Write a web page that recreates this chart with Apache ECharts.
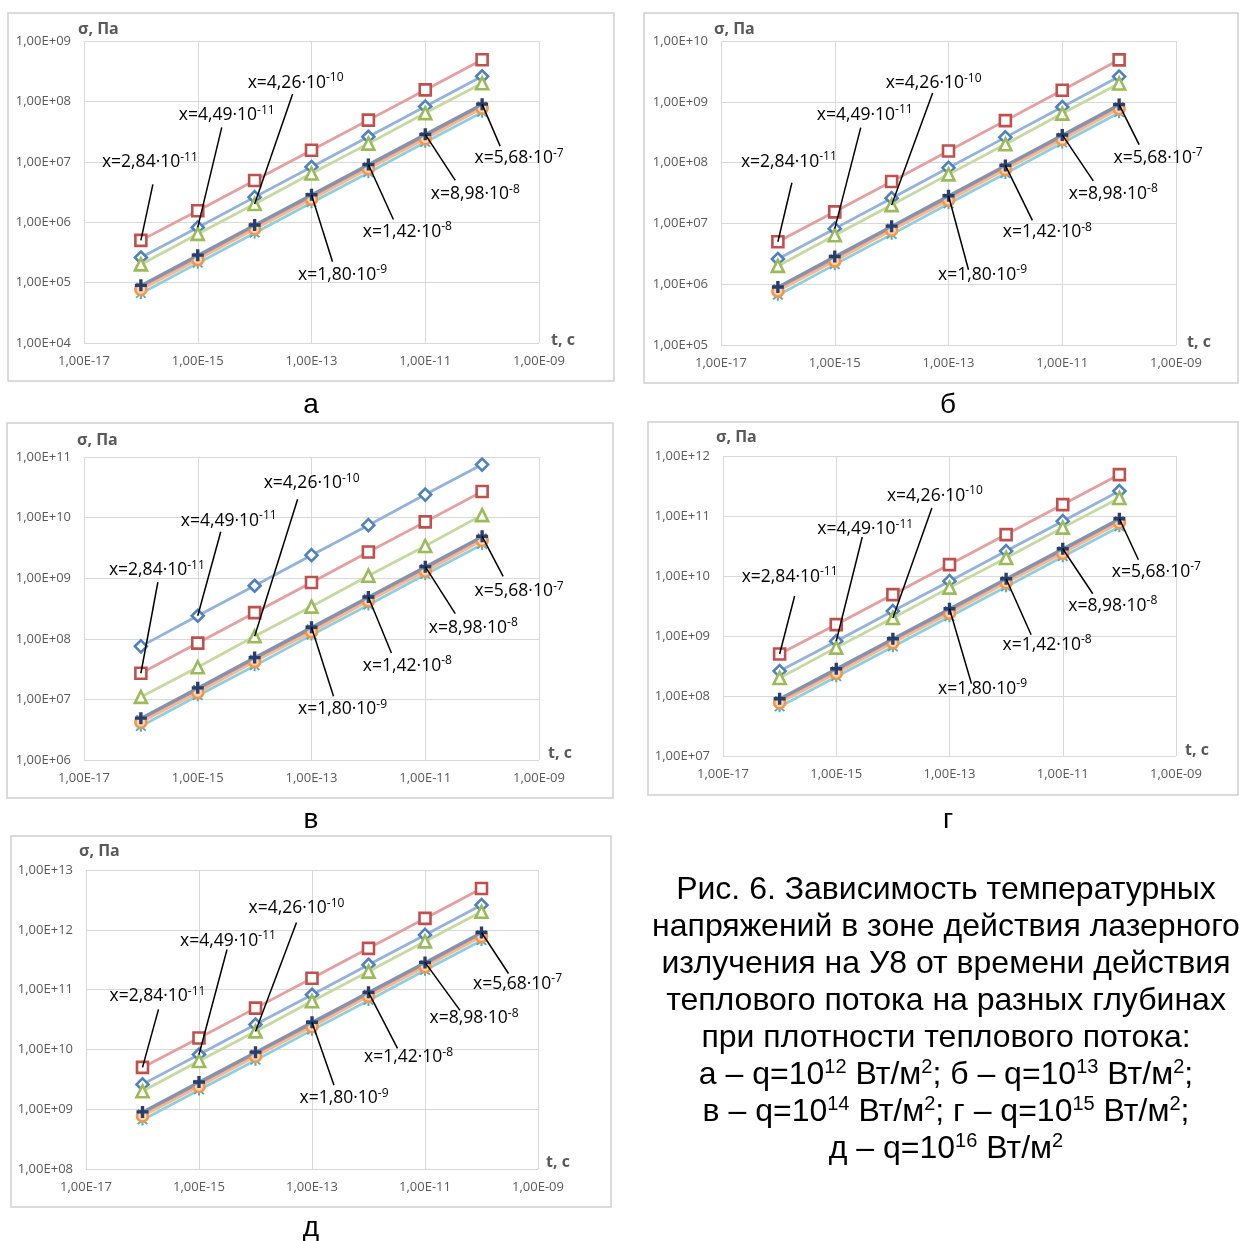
<!DOCTYPE html>
<html><head><meta charset="utf-8">
<script src="https://cdn.jsdelivr.net/npm/echarts@6/dist/echarts.min.js"></script>
<style>html,body{margin:0;padding:0;background:#fff}#c{width:1239px;height:1241px}</style>
</head><body><div id="c"></div>
<script>
// ---------- DATA ----------
const tValues = [1e-16, 1e-15, 1e-14, 1e-13, 1e-12, 1e-11, 1e-10];
const seriesNames = ['Ряд1', 'Ряд2', 'Ряд3', 'Ряд4', 'Ряд5', 'Ряд6', 'Ряд7'];
// rows: blue diamond, red square, green triangle, purple x, cyan star, orange circle, navy plus
const sigmaA = [
  [2.6e5, 8.2e5, 2.6e6, 8.2e6, 2.6e7, 8.2e7, 2.6e8],
  [5.0e5, 1.55e6, 4.9e6, 1.55e7, 4.9e7, 1.55e8, 4.9e8],
  [2.0e5, 6.4e5, 2.0e6, 6.4e6, 2.0e7, 6.4e7, 2.0e8],
  [8.3e4, 2.6e5, 8.3e5, 2.6e6, 8.3e6, 2.6e7, 8.3e7],
  [6.6e4, 2.1e5, 6.6e5, 2.1e6, 6.6e6, 2.1e7, 6.6e7],
  [7.7e4, 2.4e5, 7.7e5, 2.4e6, 7.7e6, 2.4e7, 7.7e7],
  [9.0e4, 2.85e5, 9.0e5, 2.85e6, 9.0e6, 2.85e7, 9.0e7]
];
const sigmaB = [
  [2.6e6, 8.2e6, 2.6e7, 8.2e7, 2.6e8, 8.2e8, 2.6e9],
  [5.0e6, 1.55e7, 4.9e7, 1.55e8, 4.9e8, 1.55e9, 4.9e9],
  [2.0e6, 6.4e6, 2.0e7, 6.4e7, 2.0e8, 6.4e8, 2.0e9],
  [8.3e5, 2.6e6, 8.3e6, 2.6e7, 8.3e7, 2.6e8, 8.3e8],
  [6.6e5, 2.1e6, 6.6e6, 2.1e7, 6.6e7, 2.1e8, 6.6e8],
  [7.7e5, 2.4e6, 7.7e6, 2.4e7, 7.7e7, 2.4e8, 7.7e8],
  [9.0e5, 2.85e6, 9.0e6, 2.85e7, 9.0e7, 2.85e8, 9.0e8]
];
const sigmaV = [
  [7.5e7, 2.4e8, 7.5e8, 2.4e9, 7.5e9, 2.4e10, 7.5e10],
  [2.7e7, 8.5e7, 2.7e8, 8.5e8, 2.7e9, 8.5e9, 2.7e10],
  [1.1e7, 3.4e7, 1.1e8, 3.4e8, 1.1e9, 3.4e9, 1.1e10],
  [4.6e6, 1.45e7, 4.6e7, 1.45e8, 4.6e8, 1.45e9, 4.6e9],
  [3.6e6, 1.15e7, 3.6e7, 1.15e8, 3.6e8, 1.15e9, 3.6e9],
  [4.2e6, 1.3e7, 4.2e7, 1.3e8, 4.2e8, 1.3e9, 4.2e9],
  [4.9e6, 1.55e7, 4.9e7, 1.55e8, 4.9e8, 1.55e9, 4.9e9]
];
const sigmaG = [
  [2.6e8, 8.2e8, 2.6e9, 8.2e9, 2.6e10, 8.2e10, 2.6e11],
  [5.0e8, 1.55e9, 4.9e9, 1.55e10, 4.9e10, 1.55e11, 4.9e11],
  [2.0e8, 6.4e8, 2.0e9, 6.4e9, 2.0e10, 6.4e10, 2.0e11],
  [8.3e7, 2.6e8, 8.3e8, 2.6e9, 8.3e9, 2.6e10, 8.3e10],
  [6.6e7, 2.1e8, 6.6e8, 2.1e9, 6.6e9, 2.1e10, 6.6e10],
  [7.7e7, 2.4e8, 7.7e8, 2.4e9, 7.7e9, 2.4e10, 7.7e10],
  [9.0e7, 2.85e8, 9.0e8, 2.85e9, 9.0e9, 2.85e10, 9.0e10]
];
const sigmaD = [
  [2.6e9, 8.2e9, 2.6e10, 8.2e10, 2.6e11, 8.2e11, 2.6e12],
  [5.0e9, 1.55e10, 4.9e10, 1.55e11, 4.9e11, 1.55e12, 4.9e12],
  [2.0e9, 6.4e9, 2.0e10, 6.4e10, 2.0e11, 6.4e11, 2.0e12],
  [8.3e8, 2.6e9, 8.3e9, 2.6e10, 8.3e10, 2.6e11, 8.3e11],
  [6.6e8, 2.1e9, 6.6e9, 2.1e10, 6.6e10, 2.1e11, 6.6e11],
  [7.7e8, 2.4e9, 7.7e9, 2.4e10, 7.7e10, 2.4e11, 7.7e11],
  [9.0e8, 2.85e9, 9.0e9, 2.85e10, 9.0e10, 2.85e11, 9.0e11]
];
const xMin = 1e-17, xMax = 1e-9, xTickInterval = 2;
const yMins = [1e4, 1e5, 1e6, 1e7, 1e8];
const yMaxs = [1e9, 1e10, 1e11, 1e12, 1e13];
const depthMantissa = ['2,84', '4,49', '4,26', '1,80', '1,42', '8,98', '5,68'];
const depthExponent = ['-11', '-11', '-10', '-9', '-8', '-8', '-7'];
const annotSeries = [1, 0, 2, 6, 6, 6, 6];   // series each depth label points to
const annotPoint = [0, 1, 2, 3, 4, 5, 6];    // point index it points to
const panelLetters = ['а', 'б', 'в', 'г', 'д'];
const yAxisTitle = 'σ, Па', xAxisTitle = 't, c';
const captionText = 'Рис. 6. Зависимость температурных\nнапряжений в зоне действия лазерного\nизлучения на У8 от времени действия\nтеплового потока на разных глубинах\nпри плотности теплового потока:\nа – q=10{s|12} Вт/м{s|2}; б – q=10{s|13} Вт/м{s|2};\nв – q=10{s|14} Вт/м{s|2}; г – q=10{s|15} Вт/м{s|2};\nд – q=10{s|16} Вт/м{s|2}';

// ---------- LAYOUT / STYLE ----------
const panelData = [sigmaA, sigmaB, sigmaV, sigmaG, sigmaD];
// off: label text centre offset from its point (px); lend: leader-line end offset from its point (px)
const panels = [
  {grid: {left: 84, top: 41, width: 455, height: 302}, box: [8, 13, 606, 368], letter: [311, 405], yname: [78, 29], tname: [551, 340],
   off: [[9,-78],[29,-112],[41,-121],[31,80],[39,67],[50,60],[37,54]],
   lend: [[12,-56],[24,-100],[38,-110],[21,67],[25,55],[30,46],[18,42]]},
  {grid: {left: 721, top: 41, width: 455, height: 304}, box: [644, 13, 594, 370], letter: [948, 405], yname: [714, 29], tname: [1187, 342],
   off: [[11,-80],[30,-114],[42,-122],[34,79],[42,67],[51,59],[39,53]],
   lend: [[14,-59],[26,-101],[41,-112],[20,74],[27,55],[31,46],[20,40]]},
  {grid: {left: 84, top: 457, width: 455, height: 303}, box: [7, 423, 606, 375], letter: [311, 820], yname: [77, 440], tname: [548, 753],
   off: [[16,-103],[31,-95],[57,-153],[31,82],[39,69],[48,61],[37,55]],
   lend: [[17,-91],[23,-84],[43,-137],[22,69],[23,56],[30,47],[21,40]]},
  {grid: {left: 723, top: 456, width: 453, height: 300}, box: [648, 422, 590, 373], letter: [948, 820], yname: [716, 437], tname: [1185, 750],
   off: [[10,-77],[29,-112],[42,-122],[33,80],[41,66],[50,57],[37,53]],
   lend: [[15,-58],[26,-104],[39,-110],[22,75],[25,56],[30,45],[19,41]]},
  {grid: {left: 86, top: 870, width: 452, height: 299}, box: [11, 836, 600, 371], letter: [311, 1228], yname: [79, 851], tname: [546, 1162],
   off: [[15,-71],[29,-114],[41,-123],[32,76],[40,65],[49,56],[36,51]],
   lend: [[16,-58],[28,-105],[41,-109],[22,63],[29,56],[35,48],[27,41]]}
];
const xPath = 'path://M0.6,1.7L1.7,0.6L9.4,8.3L8.3,9.4Z M8.3,0.6L9.4,1.7L1.7,9.4L0.6,8.3Z';
const starPath = 'path://M4.2,0H5.8V10H4.2Z M0.6,1.7L1.7,0.6L9.4,8.3L8.3,9.4Z M8.3,0.6L9.4,1.7L1.7,9.4L0.6,8.3Z';
const plusPath = 'path://M3.6,0H6.4V3.6H10V6.4H6.4V10H3.6V6.4H0V3.6H3.6Z';
const styles = [
  {symbol: 'diamond', size: 12, fill: '#fff', stroke: '#4F81BD', bw: 2.6, line: '#93B3DB'},
  {symbol: 'rect', size: 11, fill: '#fff', stroke: '#C0504D', bw: 2.6, line: '#E3A09E'},
  {symbol: 'triangle', size: 12, fill: '#fff', stroke: '#9BBB59', bw: 2.6, line: '#C5D9A0'},
  {symbol: xPath, size: 10, fill: '#8064A2', stroke: '#8064A2', bw: 0, line: '#9D8DB8'},
  {symbol: starPath, size: 11, fill: '#4BACC6', stroke: '#4BACC6', bw: 0, line: '#8DCFE0'},
  {symbol: 'circle', size: 11, fill: '#FBD5B5', stroke: '#F79646', bw: 2.6, line: '#F9B88A'},
  {symbol: plusPath, size: 12, fill: '#24406E', stroke: '#24406E', bw: 0, line: '#8592A8'}
];
const tickFont = '"Open Sans", "DejaVu Sans", sans-serif';
const capFont = '"Liberation Sans", Arial, sans-serif';

function sciLabel(v) {
  const e = Math.round(Math.log10(v));
  const a = Math.abs(e);
  return '1,00E' + (e < 0 ? '-' : '+') + (a < 10 ? '0' + a : '' + a);
}

const grids = [], xAxes = [], yAxes = [], series = [], graphics = [];
panels.forEach((p, pi) => {
  grids.push(Object.assign({}, p.grid));
  xAxes.push({
    type: 'log', gridIndex: pi, logBase: 10, min: xMin, max: xMax, interval: xTickInterval,
    axisLine: {show: false}, axisTick: {show: false},
    splitLine: {show: true, lineStyle: {color: '#D9D9D9', width: 1}},
    axisLabel: {color: '#595959', fontSize: 13, fontFamily: tickFont, margin: 12,
      formatter: v => { const e = Math.round(Math.log10(v)); return (Math.abs(e) % 2 === 1) ? sciLabel(v) : ''; }}
  });
  yAxes.push({
    type: 'log', gridIndex: pi, logBase: 10, min: yMins[pi], max: yMaxs[pi], interval: 1,
    axisLine: {show: false}, axisTick: {show: false},
    splitLine: {show: true, lineStyle: {color: '#D9D9D9', width: 1}},
    axisLabel: {color: '#595959', fontSize: 13, fontFamily: tickFont, margin: 13, formatter: sciLabel}
  });
  const rows = panelData[pi];
  rows.forEach((row, si) => {
    const st = styles[si];
    const data = tValues.map((t, i) => {
      const item = {value: [t, row[i]]};
      for (let k = 0; k < annotSeries.length; k++) {
        if (annotSeries[k] === si && annotPoint[k] === i) {
          item.label = {
            show: true, position: 'inside', offset: [p.off[k][0], p.off[k][1]],
            color: '#000', textBorderWidth: 0,
            formatter: '{m|x=' + depthMantissa[k] + '·10}{s|' + depthExponent[k] + '}',
            rich: {
              m: {fontSize: 17.5, lineHeight: 22, color: '#000', fontFamily: tickFont},
              s: {fontSize: 12, lineHeight: 9, verticalAlign: 'top', color: '#000', fontFamily: tickFont}
            }
          };
        }
      }
      return item;
    });
    series.push({
      type: 'line', name: seriesNames[si], xAxisIndex: pi, yAxisIndex: pi, data: data,
      symbol: st.symbol, symbolSize: st.size, showSymbol: true, showAllSymbol: true,
      itemStyle: {color: st.fill, borderColor: st.stroke, borderWidth: st.bw},
      lineStyle: {color: st.line, width: 2.8},
      label: {show: false}, emphasis: {disabled: true}, silent: true, z: 2 + si * 0.01
    });
  });
  graphics.push({type: 'rect', shape: {x: p.box[0], y: p.box[1], width: p.box[2], height: p.box[3]},
    style: {fill: 'none', stroke: '#D0D0D0', lineWidth: 1.5}, silent: true, z: -10});
  graphics.push({type: 'text', x: p.yname[0], y: p.yname[1],
    style: {text: yAxisTitle, font: 'bold 16px ' + tickFont, fill: '#595959', align: 'left', verticalAlign: 'middle'}});
  graphics.push({type: 'text', x: p.tname[0], y: p.tname[1],
    style: {text: xAxisTitle, font: 'bold 16px ' + tickFont, fill: '#595959', align: 'left', verticalAlign: 'middle'}});
  graphics.push({type: 'text', x: p.letter[0], y: p.letter[1],
    style: {text: panelLetters[pi], font: '28px ' + capFont, fill: '#000', align: 'center', verticalAlign: 'middle'}});
});
graphics.push({type: 'text', x: 946, y: 872,
  style: {text: captionText, fontSize: 32, lineHeight: 37, fontFamily: capFont, fill: '#000', align: 'center', verticalAlign: 'top',
    rich: {s: {fontSize: 20, lineHeight: 22, verticalAlign: 'top', fontFamily: capFont, fill: '#000'}}}});

const chart = echarts.init(document.getElementById('c'), null, {renderer: 'canvas'});
chart.setOption({
  backgroundColor: '#fff', animation: false,
  grid: grids, xAxis: xAxes, yAxis: yAxes, series: series, graphic: graphics
});

// leader lines: start at the data point (through the axes' scales), end near the label
const leaders = [];
panels.forEach((p, pi) => {
  for (let k = 0; k < annotSeries.length; k++) {
    const si = annotSeries[k], i = annotPoint[k];
    const pt = chart.convertToPixel({xAxisIndex: pi, yAxisIndex: pi}, [tValues[i], panelData[pi][si][i]]);
    leaders.push({type: 'line', silent: true, z: 50,
      shape: {x1: pt[0], y1: pt[1], x2: pt[0] + p.lend[k][0], y2: pt[1] + p.lend[k][1]},
      style: {stroke: '#000', lineWidth: 1.5}});
  }
});
chart.setOption({graphic: graphics.concat(leaders)});
</script></body></html>
